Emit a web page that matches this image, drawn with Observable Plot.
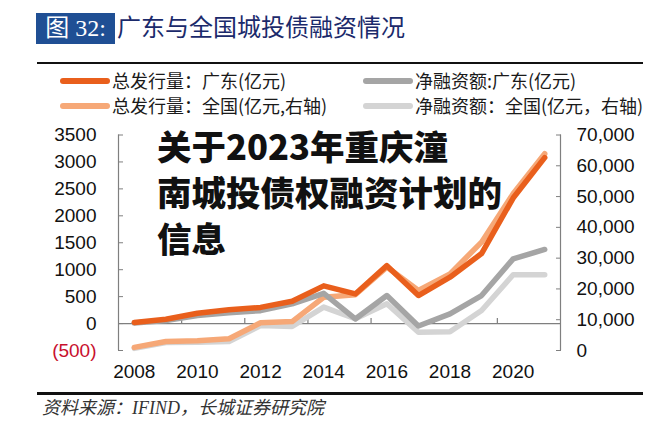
<!DOCTYPE html>
<html>
<head>
<meta charset="utf-8">
<script src="https://cdn.jsdelivr.net/npm/d3@7"></script>
<script src="https://cdn.jsdelivr.net/npm/@observablehq/plot@0.6"></script>
<style>
  html, body { margin: 0; padding: 0; background: #fff; }
  body { width: 660px; height: 443px; position: relative; overflow: hidden; font-family: "Noto Sans CJK SC", "Liberation Sans", sans-serif; }
  .abs { position: absolute; white-space: nowrap; }
  #tbox { left: 36px; top: 13px; width: 79px; height: 31px; background: #1f4f94; color: #fff; font-family: "Liberation Serif", "Noto Sans CJK SC", serif; font-size: 24px; line-height: 31px; text-align: center; }
  #ttext { left: 117px; top: 13px; height: 31px; line-height: 31px; color: #1b2a6b; font-size: 24px; font-family: "Liberation Serif", "Noto Sans CJK SC", serif; }
  .hr { position: absolute; left: 37px; width: 606px; background: #111; }
  .lg { position: absolute; font-size: 18px; color: #1a1a1a; line-height: 22px; }
  .sw { position: absolute; height: 6px; border-radius: 3px; }
  #overlay { left: 157px; top: 122px; font-size: 34.5px; font-weight: 900; line-height: 46px; color: #111; white-space: normal; width: 360px; }
  #src { left: 42px; top: 397px; font-size: 18px; line-height: 22px; font-style: italic; color: #333; font-family: "Liberation Serif", "Noto Sans CJK SC", serif; }
  #chart { position: absolute; left: 0; top: 118px; }
</style>
</head>
<body>
<div id="chart"></div>
<div class="abs" id="tbox">图 32:</div>
<div class="abs" id="ttext">广东与全国城投债融资情况</div>
<div class="hr" style="top:62px;height:2px;"></div>
<div id="legend"></div>
<div class="abs" id="overlay">关于2023年重庆潼<br>南城投债权融资计划的<br>信息</div>
<div class="hr" style="top:392px;height:3px;"></div>
<div class="abs" id="src">资料来源：IFIND，长城证券研究院</div>
<script>
// ---- data ----
const years = [2008, 2009, 2010, 2011, 2012, 2013, 2014, 2015, 2016, 2017, 2018, 2019, 2020, 2021];
const gdIssue   = [20, 80, 190, 255, 300, 415, 700, 550, 1075, 520, 860, 1300, 2330, 3080];        // 总发行量：广东 (left)
const gdNet     = [10, 55, 150, 200, 240, 365, 560, 85, 520, -45, 180, 520, 1200, 1375];            // 净融资额：广东 (left)
const cnIssue   = [1000, 2900, 3200, 3800, 9000, 9400, 17300, 18100, 27100, 19500, 24900, 35200, 50900, 63900]; // 总发行量：全国 (right)
const cnNet     = [700, 2600, 2700, 2900, 8100, 7800, 14100, 10300, 15200, 5950, 6100, 13000, 24600, 24600];    // 净融资额：全国 (right)
const seriesNames = ["总发行量：广东(亿元)", "净融资额:广东(亿元)", "总发行量：全国(亿元,右轴)", "净融资额：全国(亿元，右轴)"];
const seriesColors = ["#e95f1c", "#a5a5a5", "#f6a877", "#d4d4d4"];
const leftTicks = [-500, 0, 500, 1000, 1500, 2000, 2500, 3000, 3500];
const rightTicks = [0, 10000, 20000, 30000, 40000, 50000, 60000, 70000];
const xLabels = [2008, 2010, 2012, 2014, 2016, 2018, 2020];
const xTickMarks = [2009.5, 2011.5, 2013.5, 2015.5, 2017.5, 2019.5];

// right axis maps onto left: right 0..70000 <-> left -500..3500
const ratio = 70000 / 4000;
const toLeft = v => v / ratio - 500;
const toRight = v => (v + 500) * ratio;

const rows = (vals, name, conv) => years.map((yr, i) => ({year: yr, value: conv ? conv(vals[i]) : vals[i], name}));
const dGdIssue = rows(gdIssue, seriesNames[0]);
const dGdNet = rows(gdNet, seriesNames[1]);
const dCnIssue = rows(cnIssue, seriesNames[2], toLeft);
const dCnNet = rows(cnNet, seriesNames[3], toLeft);

const axisColor = "#7f7f7f";
const fmtLeft = d => d < 0 ? `(${-d})` : String(d);
const fmtRight = d => d3.format(",")(Math.round(toRight(d)));

const chart = Plot.plot({
  width: 660,
  height: 275,
  marginLeft: 118,
  marginRight: 100,
  marginTop: 16.5,
  marginBottom: 43,
  x: {domain: [2007.5, 2021.5], axis: null, label: null},
  y: {domain: [-500, 3500], axis: null, label: null},
  style: {fontFamily: "'Liberation Sans', Arial, sans-serif", fontSize: "19px", background: "transparent", overflow: "visible", color: "#111"},
  marks: [
    // axes lines
    Plot.ruleX([2007.5], {y1: -500, y2: 3500, stroke: axisColor, strokeWidth: 1.2}),
    Plot.ruleX([2021.5], {y1: -500, y2: 3500, stroke: axisColor, strokeWidth: 1.2}),
    Plot.ruleY([0], {stroke: axisColor, strokeWidth: 1.2}),
    // left ticks (inward)
    Plot.axisY({anchor: "left", label: null, ticks: leftTicks, tickSize: 5, dx: 5, tickFormat: () => "", stroke: axisColor}),
    Plot.axisY({anchor: "left", label: null, ticks: leftTicks.filter(d => d >= 0), tickSize: 0, tickPadding: 22, tickFormat: fmtLeft, fontSize: 19, fill: "#111"}),
    Plot.axisY({anchor: "left", label: null, ticks: leftTicks.filter(d => d < 0), tickSize: 0, tickPadding: 22, tickFormat: fmtLeft, fontSize: 19, fill: "#c8102e"}),
    // right ticks (inward)
    Plot.axisY({anchor: "right", label: null, ticks: rightTicks.map(toLeft), tickSize: 5, dx: -5, tickFormat: () => "", stroke: axisColor}),
    Plot.axisY({anchor: "right", label: null, ticks: rightTicks.map(toLeft), tickSize: 0, tickPadding: 16, tickFormat: fmtRight, fontSize: 19, fill: "#111"}),
    // x ticks on zero line pointing up
    Plot.ruleX(xTickMarks, {y1: 0, y2: 93, stroke: axisColor, strokeWidth: 1.2}),
    Plot.axisX({anchor: "bottom", label: null, ticks: xLabels, tickSize: 0, tickPadding: 14, tickFormat: d => String(d), fontSize: 19, fill: "#111"}),
    // series
    Plot.lineY(dCnNet, {x: "year", y: "value", stroke: seriesColors[3], strokeWidth: 5.5, strokeLinejoin: "round"}),
    Plot.lineY(dCnIssue, {x: "year", y: "value", stroke: seriesColors[2], strokeWidth: 5.5, strokeLinejoin: "round"}),
    Plot.lineY(dGdNet, {x: "year", y: "value", stroke: seriesColors[1], strokeWidth: 5.5, strokeLinejoin: "round"}),
    Plot.lineY(dGdIssue, {x: "year", y: "value", stroke: seriesColors[0], strokeWidth: 5.5, strokeLinejoin: "round"})
  ]
});
document.getElementById("chart").appendChild(chart);

// legend
const legend = document.getElementById("legend");
const pos = [
  {sx: 60, tx: 112, y: 81},
  {sx: 363, tx: 415, y: 81},
  {sx: 60, tx: 112, y: 106},
  {sx: 363, tx: 415, y: 106}
];
seriesNames.forEach((name, i) => {
  const p = pos[i];
  const sw = document.createElement("div");
  sw.className = "sw";
  sw.style.left = p.sx + "px";
  sw.style.width = "50px";
  sw.style.top = (p.y - 3) + "px";
  sw.style.background = seriesColors[i];
  legend.appendChild(sw);
  const t = document.createElement("div");
  t.className = "lg abs";
  t.style.left = p.tx + "px";
  t.style.top = (p.y - 12) + "px";
  t.textContent = name;
  legend.appendChild(t);
});
</script>
</body>
</html>
